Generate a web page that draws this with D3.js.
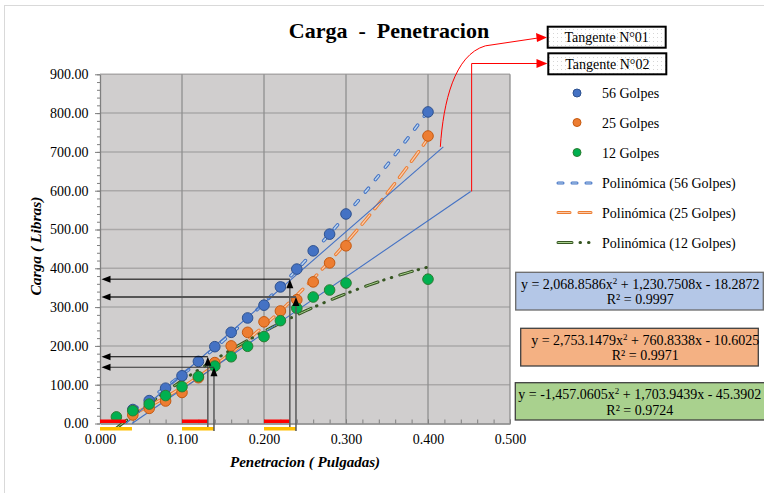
<!DOCTYPE html>
<html>
<head>
<meta charset="utf-8">
<script src="https://cdn.jsdelivr.net/npm/d3@7"></script>
<style>
  html, body { margin: 0; padding: 0; background: #fff; }
  svg { display: block; }
  text { font-family: "Liberation Serif", "Times New Roman", serif; fill: #000; }
</style>
</head>
<body>
<script>
// Penetration (inches) at each reading
const pen56 = [0.04, 0.06, 0.08, 0.10, 0.12, 0.14, 0.16, 0.18, 0.20, 0.22, 0.24, 0.26, 0.28, 0.30, 0.40];
const pen25 = [0.04, 0.06, 0.08, 0.10, 0.12, 0.14, 0.16, 0.18, 0.20, 0.22, 0.24, 0.26, 0.28, 0.30, 0.40];
const pen12 = [0.02, 0.04, 0.06, 0.08, 0.10, 0.12, 0.14, 0.16, 0.18, 0.20, 0.22, 0.24, 0.26, 0.28, 0.30, 0.40];
// Load (lb) for each compaction energy
const load56 = [36, 59, 91, 123, 160, 198, 235, 272, 305, 352, 398, 445, 488, 540, 803];
const load25 = [22, 39, 58, 80, 118, 157, 200, 235, 262, 290, 319, 365, 414, 458, 741];
const load12 = [17, 33, 50, 72, 95, 121, 148, 172, 199, 224, 265, 297, 326, 344, 362, 372];

// Polynomial trend coefficients [a, b, c] for y = a x^2 + b x + c
const fit56 = [2068.8586, 1230.7508, -18.2872];
const fit25 = [2753.1479, 760.8338, -10.6025];
const fit12 = [-1457.0605, 1703.9439, -45.3902];
const r2 = [0.9997, 0.9971, 0.9724];

// Tangent lines: [x0, y0, x1, y1]
const tangent1 = [0.0315, 0, 0.4187, 713];
const tangent2 = [0.039, 0, 0.452, 598];

// Corrected penetrations and the loads read at them
const correctedPen = [0.1315, 0.139, 0.2315, 0.239];
const correctedLoad = [172, 145, 372, 326];

const xTicks = [0, 0.1, 0.2, 0.3, 0.4, 0.5];
const yTicks = [0, 100, 200, 300, 400, 500, 600, 700, 800, 900];

const W = 764, H = 493;
const svg = d3.select("body").append("svg").attr("width", W).attr("height", H);
const defs = svg.append("defs");

// dotted fill for the tangent tags
const pat = defs.append("pattern").attr("id", "dots").attr("width", 4).attr("height", 4)
  .attr("patternUnits", "userSpaceOnUse");
pat.append("rect").attr("width", 4).attr("height", 4).attr("fill", "#fff");
pat.append("rect").attr("x", 1).attr("y", 1).attr("width", 1).attr("height", 1).attr("fill", "#d6d6d6");

// chart frame
svg.append("rect").attr("x", 4.5).attr("y", 5.5).attr("width", 820).attr("height", 520)
  .attr("fill", "#fff").attr("stroke", "#d9d9d9").attr("stroke-width", 1);

const x = d3.scaleLinear().domain([0, 0.5]).range([100, 510]);
const y = d3.scaleLinear().domain([0, 900]).range([423.5, 74.3]);

// plot area
svg.append("rect").attr("x", x(0)).attr("y", y(900)).attr("width", x(0.5) - x(0)).attr("height", y(0) - y(900))
  .attr("fill", "#d0cece");

// grid
svg.append("g").selectAll("line").data(yTicks.slice(1)).join("line")
  .attr("x1", x(0)).attr("x2", x(0.5)).attr("y1", d => y(d)).attr("y2", d => y(d))
  .attr("stroke", "#aaa8a8").attr("stroke-width", 1.5);
svg.append("g").selectAll("line").data(xTicks.slice(1)).join("line")
  .attr("x1", d => x(d)).attr("x2", d => x(d)).attr("y1", y(0)).attr("y2", y(900))
  .attr("stroke", "#8f8f8f").attr("stroke-width", 1.3);

// axes
const yMinor = d3.range(0, 901, 20);
svg.append("g").attr("transform", `translate(${x(0)},0)`)
  .call(d3.axisLeft(y).tickValues(yMinor).tickSize(3).tickFormat(""))
  .call(g => g.select(".domain").remove())
  .call(g => g.selectAll("line").attr("stroke", "#7f7f7f"));
const yAxis = svg.append("g").attr("transform", `translate(${x(0)},0)`)
  .call(d3.axisLeft(y).tickValues(yTicks).tickSizeInner(5).tickSizeOuter(0).tickPadding(6.5)
    .tickFormat(d3.format(".2f")));
yAxis.select(".domain").attr("stroke", "#7f7f7f").attr("stroke-width", 1.3);
yAxis.selectAll("line").attr("stroke", "#7f7f7f");
yAxis.selectAll("text").attr("font-size", 14).attr("fill", "#000");

const xMinor = d3.range(0, 0.501, 0.02);
svg.append("g").attr("transform", `translate(0,${y(0)})`)
  .call(d3.axisBottom(x).tickValues(xMinor).tickSize(-4).tickFormat(""))
  .call(g => g.select(".domain").remove())
  .call(g => g.selectAll("line").attr("stroke", "#7f7f7f"));
const xAxis = svg.append("g").attr("transform", `translate(0,${y(0)})`)
  .call(d3.axisBottom(x).tickValues(xTicks).tickSizeInner(-4).tickSizeOuter(0).tickPadding(10.5)
    .tickFormat(d3.format(".3f")));
xAxis.select(".domain").attr("stroke", "#7f7f7f").attr("stroke-width", 1.3);
xAxis.selectAll("line").attr("stroke", "#7f7f7f");
xAxis.selectAll("text").attr("font-size", 14).attr("fill", "#000");

// titles
svg.append("text").attr("x", 389).attr("y", 38).attr("text-anchor", "middle")
  .attr("font-size", 22).attr("font-weight", "bold").style("white-space", "pre")
  .text("Carga  -  Penetracion");
svg.append("text").attr("x", 305).attr("y", 467).attr("text-anchor", "middle")
  .attr("font-size", 15).attr("font-weight", "bold").attr("font-style", "italic")
  .text("Penetracion ( Pulgadas)");
svg.append("text").attr("transform", "translate(41,246) rotate(-90)").attr("text-anchor", "middle")
  .attr("font-size", 15.5).attr("font-weight", "bold").attr("font-style", "italic")
  .text("Carga ( Libras)");

// trend curves
const line = d3.line().x(d => x(d[0])).y(d => y(d[1]));
const poly = (c, t) => c[0] * t * t + c[1] * t + c[2];
const curve = (c, x0, x1) => d3.range(0, 101).map(i => { const t = x0 + (x1 - x0) * i / 100; return [t, poly(c, t)]; });

function dashedCapsule(g, pts, outer, inner, dash, innerDash, w) {
  g.append("path").attr("d", line(pts)).attr("fill", "none").attr("stroke", outer)
    .attr("stroke-width", w).attr("stroke-dasharray", dash).attr("stroke-linecap", "round");
  g.append("path").attr("d", line(pts)).attr("fill", "none").attr("stroke", inner)
    .attr("stroke-width", w - 2).attr("stroke-dasharray", innerDash).attr("stroke-linecap", "round");
}
const trends = svg.append("g");
dashedCapsule(trends, curve(fit56, pen56[0], 0.4), "#4472c4", "#bdd7ee", "5 11", "5 11", 3.5);
dashedCapsule(trends, curve(fit25, pen25[0], 0.4), "#ed7d31", "#f8cbad", "12 8", "12 8", 3.3);
dashedCapsule(trends, curve(fit12, pen12[0], 0.4), "#375623", "#a9d18e", "13 6 0.5 7.5 0.5 8.5", "13 23", 3);

// tangent lines
[tangent1, tangent2].forEach(t => {
  svg.append("line").attr("x1", x(t[0])).attr("y1", y(t[1])).attr("x2", x(t[2])).attr("y2", y(t[3]))
    .attr("stroke", "#4472c4").attr("stroke-width", 1.1);
});

// markers
const series = [
  { px: pen56, py: load56, fill: "#4472c4", stroke: "#2f528f" },
  { px: pen25, py: load25, fill: "#ed7d31", stroke: "#c55a11" },
  { px: pen12, py: load12, fill: "#00b050", stroke: "#2e7d32" }
];
series.forEach(s => {
  svg.append("g").selectAll("circle").data(s.px.map((p, i) => [p, s.py[i]])).join("circle")
    .attr("cx", d => x(d[0])).attr("cy", d => y(d[1])).attr("r", 5.3)
    .attr("fill", s.fill).attr("stroke", s.stroke).attr("stroke-width", 1);
});

// corrected-origin bars
const shift = [tangent1[0], tangent2[0]];
[0, 0.1, 0.2].forEach(o => {
  svg.append("rect").attr("x", x(o)).attr("y", y(0) - 4).attr("width", x(shift[0]) - x(0)).attr("height", 3.5)
    .attr("fill", "#ff0000");
  svg.append("rect").attr("x", x(o)).attr("y", y(0) + 3.5).attr("width", x(shift[1]) - x(0)).attr("height", 3.5)
    .attr("fill", "#ffc000");
});

// reading arrows
const hStyles = [["#000", 1], ["#333", 1.2], ["#000", 1], ["#555", 1.8]];
const vBottom = [427, 431, 427, 431];
correctedPen.forEach((p, i) => {
  const xp = x(p), yp = y(correctedLoad[i]);
  svg.append("line").attr("x1", xp).attr("x2", xp).attr("y1", vBottom[i]).attr("y2", yp + 6)
    .attr("stroke", "#595959").attr("stroke-width", 1.5);
  svg.append("path").attr("d", `M${xp},${yp} l-3.5,9 l7,0 z`).attr("fill", "#000");
  svg.append("line").attr("x1", xp).attr("x2", x(0) + 8).attr("y1", yp).attr("y2", yp)
    .attr("stroke", hStyles[i][0]).attr("stroke-width", hStyles[i][1]);
  svg.append("path").attr("d", `M${x(0) + 1.5},${yp} l9,-3.5 l0,7 z`).attr("fill", "#000");
});

// legend
const leg = svg.append("g");
const legMarks = [["#4472c4", "#2f528f", "56 Golpes"], ["#ed7d31", "#c55a11", "25 Golpes"], ["#00b050", "#2e7d32", "12 Golpes"]];
const legY = [93, 122.5, 152.5];
legMarks.forEach((m, i) => {
  leg.append("circle").attr("cx", 577).attr("cy", legY[i]).attr("r", 4).attr("fill", m[0]).attr("stroke", m[1]);
  leg.append("text").attr("x", 602).attr("y", legY[i] + 5).attr("font-size", 14).text(m[2]);
});
const legLines = [
  ["#4472c4", "#bdd7ee", "5 9", "5 9", 3, "Polinómica (56 Golpes)"],
  ["#ed7d31", "#f8cbad", "12 9", "12 9", 3, "Polinómica (25 Golpes)"],
  ["#375623", "#a9d18e", "14 8 0.5 8 0.5 20", "14 40", 3, "Polinómica (12 Golpes)"]
];
const legLY = [183, 212.5, 242.5];
legLines.forEach((l, i) => {
  const pts = [[558, legLY[i]], [597, legLY[i]]];
  const ln = d3.line();
  leg.append("path").attr("d", ln(pts)).attr("stroke", l[0]).attr("stroke-width", l[4])
    .attr("stroke-dasharray", l[2]).attr("stroke-linecap", "round").attr("fill", "none");
  leg.append("path").attr("d", ln(pts)).attr("stroke", l[1]).attr("stroke-width", l[4] - 2)
    .attr("stroke-dasharray", l[3]).attr("stroke-linecap", "round").attr("fill", "none");
  leg.append("text").attr("x", 602).attr("y", legLY[i] + 5).attr("font-size", 14).text(l[5]);
});

// equation boxes
const fmtAbs = d3.format(",.4f");
const fmt = v => (v < 0 ? "-" : "") + fmtAbs(Math.abs(v));
const eqBoxes = [
  { c: fit56, r: r2[0], fill: "#b4c7e7", stroke: "#6a6a6a", bx: 515.7, by: 272.3, bw: 247.6, bh: 37.7 },
  { c: fit25, r: r2[1], fill: "#f4b183", stroke: "#404040", bx: 520.7, by: 328.3, bw: 237.6, bh: 37.7 },
  { c: fit12, r: r2[2], fill: "#a9d18e", stroke: "#404040", bx: 515.3, by: 382.7, bw: 252, bh: 37.3 }
];
eqBoxes.forEach(b => {
  svg.append("rect").attr("x", b.bx).attr("y", b.by).attr("width", b.bw).attr("height", b.bh)
    .attr("fill", b.fill).attr("stroke", b.stroke).attr("stroke-width", 1.3);
  const cx = b.bx + 124.5;
  const t = svg.append("text").attr("x", cx).attr("y", b.by + 16.5).attr("text-anchor", "middle").attr("font-size", 14);
  t.append("tspan").text(`y = ${fmt(b.c[0])}x`);
  t.append("tspan").attr("font-size", 9).attr("dy", -5).text("2");
  const sgn = v => v < 0 ? "- " : "+ ";
  t.append("tspan").attr("dy", 5).text(` ${sgn(b.c[1])}${fmtAbs(Math.abs(b.c[1]))}x ${sgn(b.c[2])}${fmtAbs(Math.abs(b.c[2]))}`);
  svg.append("text").attr("x", cx).attr("y", b.by + 32).attr("text-anchor", "middle").attr("font-size", 14)
    .text(`R² = ${b.r.toFixed(4)}`);
});

// tangent tags and connectors
const tags = [["Tangente N°01", 547.7, 26.7], ["Tangente N°02", 548.3, 53.3]];
tags.forEach(t => {
  svg.append("rect").attr("x", t[1]).attr("y", t[2]).attr("width", 118).attr("height", 21)
    .attr("fill", "url(#dots)").attr("stroke", "#000").attr("stroke-width", 2);
  svg.append("text").attr("x", t[1] + 59).attr("y", t[2] + 15.5).attr("text-anchor", "middle")
    .attr("font-size", 14).text(t[0]);
});
const tip1 = [x(tangent1[2]) - 3, y(tangent1[3])];
svg.append("path")
  .attr("d", `M${tip1[0]},${tip1[1]} C${tip1[0] + 3},${tip1[1] - 45} ${tip1[0] + 14},${tip1[1] - 92} ${tip1[0] + 45},${tip1[1] - 101} L538,38`)
  .attr("fill", "none").attr("stroke", "#ff0000").attr("stroke-width", 1);
svg.append("path").attr("d", "M547,37.5 l-11,-4.5 l1,9 z").attr("fill", "#ff0000");
const tip2 = [x(tangent2[2]) + 1, y(tangent2[3])];
svg.append("path").attr("d", `M${tip2[0]},${tip2[1]} L${tip2[0]},63.5 L538,63.5`)
  .attr("fill", "none").attr("stroke", "#ff0000").attr("stroke-width", 1);
svg.append("path").attr("d", "M547.5,63.5 l-11,-4.5 l0,9 z").attr("fill", "#ff0000");
</script>
</body>
</html>
